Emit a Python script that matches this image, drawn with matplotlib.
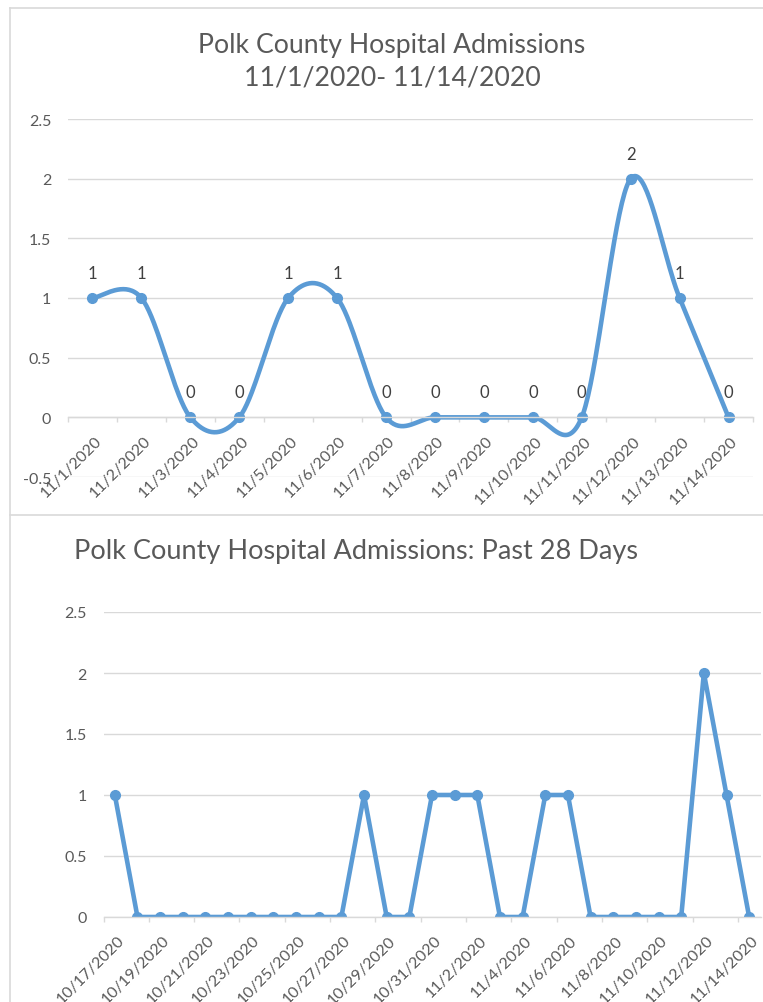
import matplotlib
matplotlib.use('Agg')
from matplotlib import pyplot as plt
from matplotlib.lines import Line2D
from matplotlib.transforms import ScaledTranslation
import numpy as np
import pandas as pd

plt.rcParams['font.family'] = ['Lato', 'DejaVu Sans']

# data
top_dates = ['11/1/2020', '11/2/2020', '11/3/2020', '11/4/2020', '11/5/2020',
             '11/6/2020', '11/7/2020', '11/8/2020', '11/9/2020', '11/10/2020',
             '11/11/2020', '11/12/2020', '11/13/2020', '11/14/2020']
top_vals = [1, 1, 0, 0, 1, 1, 0, 0, 0, 0, 0, 2, 1, 0]

past_dates = [f"{d.month}/{d.day}/{d.year}" for d in pd.date_range('2020-10-17', '2020-11-14')]
past_vals = [1, 0, 0, 0, 0, 0, 0, 0, 0, 0, 0, 1, 0, 0, 1, 1, 1, 0, 0,
             1, 1, 0, 0, 0, 0, 0, 2, 1, 0]

BLUE = '#5B9BD5'
GRID = '#D9D9D9'
TXT = '#595959'


def smooth(y, n=40):
    # excel-like bezier smoothing
    y = np.asarray(y, dtype=float)
    x = np.arange(len(y), dtype=float)
    xs, ys = [], []
    for i in range(len(y) - 1):
        p0 = i - 1 if i > 0 else i
        p3 = i + 2 if i + 2 < len(y) else i + 1
        c1x = x[i] + (x[i + 1] - x[p0]) / 6
        c1y = y[i] + (y[i + 1] - y[p0]) / 6
        c2x = x[i + 1] - (x[p3] - x[i]) / 6
        c2y = y[i + 1] - (y[p3] - y[i]) / 6
        t = np.linspace(0, 1, n)
        a, b, c, d = (1 - t) ** 3, 3 * (1 - t) ** 2 * t, 3 * (1 - t) * t ** 2, t ** 3
        xs.append(a * x[i] + b * c1x + c * c2x + d * x[i + 1])
        ys.append(a * y[i] + b * c1y + c * c2y + d * y[i + 1])
    return np.concatenate(xs), np.concatenate(ys)


def style_axis(ax, fig, labels, positions, minor):
    ax.set_xticks(positions)
    ax.set_xticklabels(labels)
    ax.set_xticks(minor, minor=True)
    ax.tick_params(axis='x', which='major', length=0, pad=15, labelsize=11.5, labelcolor=TXT)
    ax.tick_params(axis='x', which='minor', length=3.6, width=1, color=GRID)
    ax.tick_params(axis='y', length=0, pad=12, labelsize=11.5, labelcolor=TXT)
    for lbl in ax.get_xticklabels():
        lbl.set_rotation(45)
        lbl.set_ha('right')
        lbl.set_va('center')
        lbl.set_rotation_mode('anchor')
        lbl.set_transform(lbl.get_transform() + ScaledTranslation(0.07, 0, fig.dpi_scale_trans))
    ax.set_yticks([v for v in ax.get_yticks()])
    ax.set_yticklabels([f"{v:g}" for v in ax.get_yticks()])
    ax.grid(True, axis='y', color=GRID, linewidth=1)
    ax.set_axisbelow(True)
    for s in ['top', 'right', 'left']:
        ax.spines[s].set_visible(False)
    ax.spines['bottom'].set_color(GRID)
    ax.spines['bottom'].set_linewidth(1)


fig = plt.figure(figsize=(7.63, 10.03), dpi=100)
W, H = 763, 1003

# top chart
ax1 = fig.add_axes([68 / W, 1 - 478 / H, 685 / W, 358 / H])
x1 = np.arange(len(top_vals))
sx, sy = smooth(top_vals)
ax1.plot(sx, sy, color=BLUE, linewidth=3.3, solid_capstyle='round')
ax1.plot(x1, top_vals, 'o', color=BLUE, markersize=7)
for xi, v in zip(x1, top_vals):
    ax1.annotate(str(v), (xi, v), xytext=(0, 18), textcoords='offset points',
                 ha='center', va='center', fontsize=12, color='#404040')
ax1.set_xlim(-0.5, len(top_vals) - 0.5)
ax1.set_ylim(-0.5, 2.5)
ax1.set_yticks(np.arange(-0.5, 2.6, 0.5))
ax1.spines['bottom'].set_position(('data', 0))
style_axis(ax1, fig, top_dates, x1, np.arange(-0.5, len(top_vals), 1))

fig.text(392 / W, 1 - 45 / H, 'Polk County Hospital Admissions', ha='center', va='center',
         fontsize=19.2, color=TXT)
fig.text(392 / W, 1 - 78 / H, '11/1/2020- 11/14/2020', ha='center', va='center',
         fontsize=19.2, color=TXT)

# bottom chart
ax2 = fig.add_axes([103.5 / W, 1 - 918 / H, 657 / W, 305 / H])
x2 = np.arange(len(past_vals))
ax2.plot(x2, past_vals, '-o', color=BLUE, linewidth=3.3, markersize=7)
ax2.set_xlim(-0.5, len(past_vals) - 0.5)
ax2.set_ylim(0, 2.5)
ax2.set_yticks(np.arange(0, 2.6, 0.5))
style_axis(ax2, fig, past_dates[::2], x2[::2], np.arange(-0.5, len(past_vals) - 1, 2))

fig.text(356 / W, 1 - 552 / H, 'Polk County Hospital Admissions: Past 28 Days', ha='center',
         va='center', fontsize=19.5, color=TXT)

# chart borders
for (xa, ya), (xb, yb) in [((9.5, 8.5), (763, 8.5)), ((9.5, 8.5), (9.5, 1003)),
                           ((9.5, 516), (763, 516))]:
    fig.add_artist(Line2D([xa / W, xb / W], [1 - ya / H, 1 - yb / H], color=GRID, linewidth=1.2))

plt.savefig('out.png', dpi=100)
